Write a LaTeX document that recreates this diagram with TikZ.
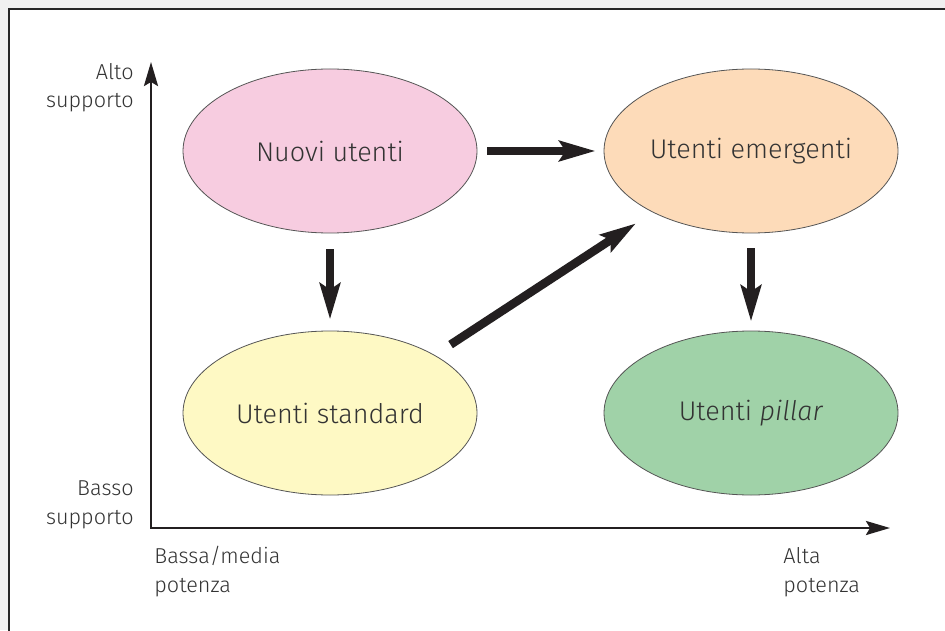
\documentclass[tikz,border=0pt]{standalone}
\usepackage{fontspec}
\setmainfont{Fira Sans Light}[ItalicFont={Fira Sans Light Italic}]
\usetikzlibrary{shapes.geometric,arrows.meta}

\definecolor{backgray}{HTML}{F0F0F0}
\definecolor{frame}{HTML}{262626}
\definecolor{ink}{HTML}{333333}
\definecolor{arrowink}{HTML}{231F20}
\definecolor{edge}{HTML}{555555}
\definecolor{nuovo}{HTML}{F7CCE0}
\definecolor{emerg}{HTML}{FDDBB9}
\definecolor{standard}{HTML}{FEF9C4}
\definecolor{pillar}{HTML}{A0D2A8}

\begin{document}
\begin{tikzpicture}[x=0.5pt,y=-0.5pt]
        \tikzstyle{every path}=[line join=miter]
        \tikzstyle{cell}=[ellipse,draw=edge,line width=0.4pt,minimum width=147pt,minimum height=82pt,inner sep=0pt,font=\fontsize{13.5}{16}\selectfont,text=ink]
        \tikzstyle{axislabel}=[inner sep=0pt,font=\fontsize{10.8}{14.25}\selectfont,text=ink]
        \tikzstyle{flow}=[draw=arrowink,line width=4.25pt,-{Stealth[length=18pt,width=10pt,inset=3pt]}]
        \tikzstyle{axis}=[draw=arrowink,line width=1.3pt,{Stealth[length=12pt,width=7pt,inset=2pt]}-{Stealth[length=12pt,width=7pt,inset=2pt]}]

        \useasboundingbox (0,0) rectangle (945,630);
        \fill[backgray] (0,0) rectangle (945,630);
        \filldraw[fill=white,draw=frame,line width=0.75pt] (9,9) rectangle (960,645);

        %axes
        \coordinate (ytop) at (151,62);
        \coordinate (origin) at (151,528);
        \coordinate (xend) at (890,528);
        \draw[axis] (ytop) -- (origin) -- (xend);

        \node[axislabel,align=right,anchor=base east] (alto) at (134,108) {Alto\\supporto};
        \node[axislabel,align=right,anchor=base east] (basso) at (134,524) {Basso\\supporto};
        \node[axislabel,align=left,anchor=base west] (bassa) at (154,592) {Bassa/media\\potenza};
        \node[axislabel,align=left,anchor=base west] (alta) at (783,592) {Alta\\potenza};

        %the four groups
        \node[cell,fill=nuovo] (nuovi) at (330,151) {Nuovi utenti};
        \node[cell,fill=emerg] (emergenti) at (751,151) {Utenti emergenti};
        \node[cell,fill=standard] (std) at (330,413) {Utenti standard};
        \node[cell,fill=pillar] (pillar) at (751,413) {Utenti \textit{pillar}};

        \draw[flow,shorten <=5pt,shorten >=4pt] (nuovi) -- (emergenti);
        \draw[flow,shorten <=8pt,shorten >=5.5pt] (nuovi) -- (std);
        \draw[flow,shorten <=7.5pt,shorten >=4.5pt] (emergenti) -- (pillar);
        \draw[flow,shorten <=9.5pt,shorten >=10pt] (std.29) -- (emergenti.212);
\end{tikzpicture}
\end{document}
